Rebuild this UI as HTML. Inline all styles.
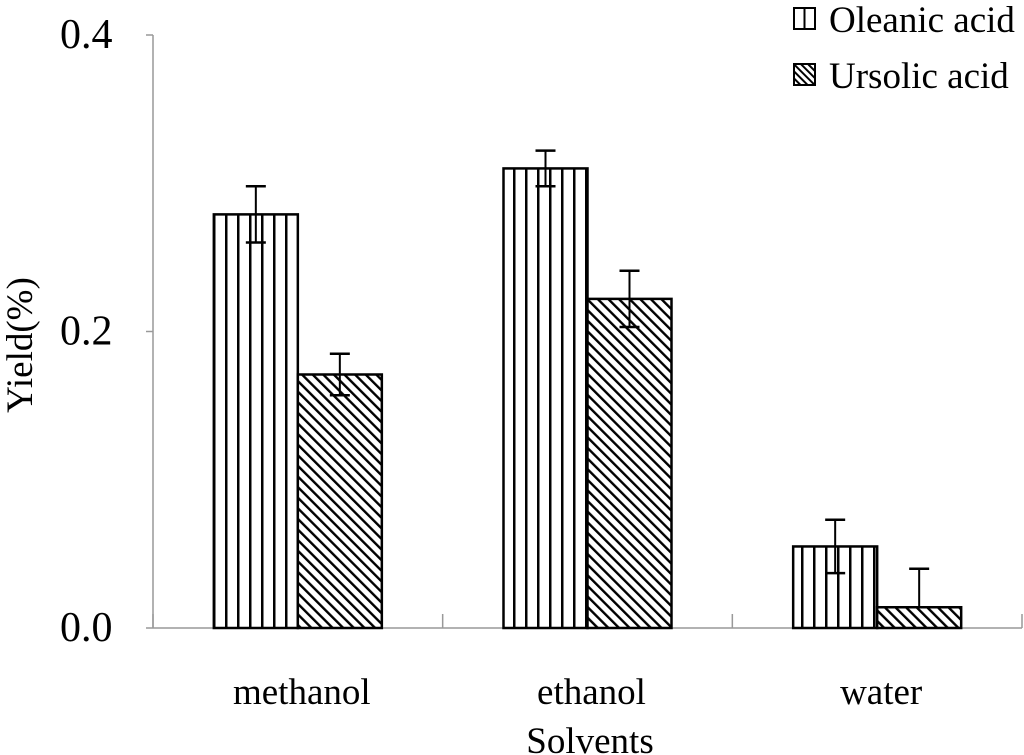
<!DOCTYPE html>
<html><head><meta charset="utf-8"><style>
html,body{margin:0;padding:0;background:#fff;}
svg{display:block;font-family:"Liberation Serif",serif;}
</style></head><body>
<svg id="chart" width="1024" height="755" viewBox="0 0 1024 755">
<defs>
<pattern id="vert" patternUnits="userSpaceOnUse" width="12" height="12" x="213">
<rect width="12" height="12" fill="#fff"/><rect x="0" y="0" width="2.5" height="12" fill="#000"/>
</pattern>
<pattern id="diag" patternUnits="userSpaceOnUse" width="7.5" height="7.5" patternTransform="rotate(-45)">
<rect width="7.5" height="7.5" fill="#fff"/><rect x="0" y="0" width="2.4" height="7.5" fill="#000"/>
</pattern>
<pattern id="diagS" patternUnits="userSpaceOnUse" width="5" height="5" patternTransform="rotate(-45)">
<rect width="5" height="5" fill="#fff"/><rect x="0" y="0" width="2" height="5" fill="#000"/>
</pattern>
</defs>
<g id="plot"></g>
</svg>
<script>
const categories = ["methanol","ethanol","water"];
const seriesNames = ["Oleanic acid","Ursolic acid"];
const oleanic = [0.279, 0.31, 0.055];
const ursolic = [0.171, 0.222, 0.014];
const oleanicErr = [0.019, 0.012, 0.018];
const ursolicErr = [0.014, 0.019, 0.026];
const yTicks = [0.0, 0.2, 0.4];
const yTickLabels = ["0.0","0.2","0.4"];

const NS="http://www.w3.org/2000/svg";
const g=document.getElementById('plot');
const x0=153, x1=1022, y0=628, yTop=35, yMax=0.4;
const y=v=>y0-(v/yMax)*(y0-yTop);
const catW=(x1-x0)/categories.length;
const barW=84;
function mk(t,a){const e=document.createElementNS(NS,t);for(const k in a)e.setAttribute(k,a[k]);g.appendChild(e);return e;}

let e=mk('line',{x1:x0,y1:yTop,x2:x0,y2:y0,stroke:'#999','stroke-width':1.5});


e=mk('line',{x1:x0,y1:y0,x2:x1,y2:y0,stroke:'#999','stroke-width':1.5});



yTicks.forEach((v,i)=>{
  let t=mk('line',{x1:x0-7,y1:y(v),x2:x0,y2:y(v),stroke:'#999','stroke-width':1.5});
  
  
  let l=mk('text',{x:60,y:y(v)+13,'font-size':42});
  l.textContent=yTickLabels[i];
  
  
});
for(let i=0;i<=categories.length;i++){
  let t=mk('line',{x1:x0+i*catW,y1:y0-14,x2:x0+i*catW,y2:y0,stroke:'#999','stroke-width':1.5});
  
  
}
function errBar(cx,v,err){
  const lo=Math.max(0,v-err), hi=v+err;
  const bottom = v-err>0 ? y(lo) : y(v);
  let l=mk('line',{x1:cx,y1:y(hi),x2:cx,y2:bottom,stroke:'#000','stroke-width':2});
  
  
  mk('line',{x1:cx-10,y1:y(hi),x2:cx+10,y2:y(hi),stroke:'#000','stroke-width':2.5});
  if(v-err>0) mk('line',{x1:cx-10,y1:y(lo),x2:cx+10,y2:y(lo),stroke:'#000','stroke-width':2.5});
}
categories.forEach((c,i)=>{
  const cx=x0+catW*(i+0.5);
  let b=mk('rect',{x:cx-barW,y:y(oleanic[i]),width:barW,height:y0-y(oleanic[i]),fill:'url(#vert)',stroke:'#000','stroke-width':2.5});
  
  
  b=mk('rect',{x:cx,y:y(ursolic[i]),width:barW,height:y0-y(ursolic[i]),fill:'url(#diag)',stroke:'#000','stroke-width':2.5});
  
  
  errBar(cx-barW/2,oleanic[i],oleanicErr[i]);
  errBar(cx+barW/2,ursolic[i],ursolicErr[i]);
  let l=mk('text',{x:cx+4,y:704,'text-anchor':'middle','font-size':37});
  l.textContent=c;
  
  
});
let t=mk('text',{x:590,y:753,'text-anchor':'middle','font-size':37});
t.textContent='Solvents';


t=mk('text',{x:0,y:0,'text-anchor':'middle','font-size':37,transform:'translate(32,345) rotate(-90)'});
t.textContent='Yield(%)';



seriesNames.forEach((n,i)=>{
  const ly=8+i*56;
  let r=mk('rect',{x:794,y:ly,width:21,height:21,fill:i==0?'#fff':'url(#diagS)',stroke:'#000','stroke-width':2});
  
  
  if(i==0) mk('line',{x1:804.5,y1:ly,x2:804.5,y2:ly+21,stroke:'#000','stroke-width':2});
  let l=mk('text',{x:829,y:ly+24,'font-size':37});
  l.textContent=n;
  
  
});
</script>
</body></html>
